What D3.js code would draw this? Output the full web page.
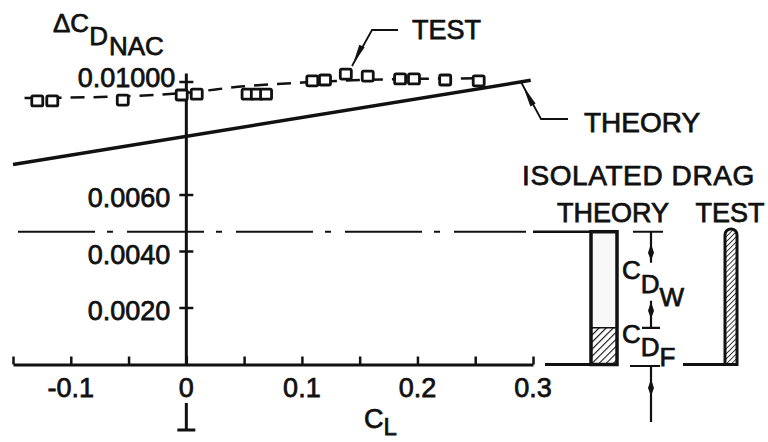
<!DOCTYPE html>
<html>
<head>
<meta charset="utf-8">
<script src="https://cdn.jsdelivr.net/npm/d3@7"></script>
<style>
  html, body { margin: 0; padding: 0; background: #fff; }
  svg { display: block; }
  text { font-family: "Liberation Sans", Arial, Helvetica, sans-serif; fill: #111; stroke: #111; stroke-width: 0.75px; }
</style>
</head>
<body>
<svg id="chart" width="768" height="442"></svg>
<script>
// Nacelle drag increment vs lift coefficient
const testCL = [-0.129, -0.116, -0.055, -0.004, 0.009, 0.053, 0.061, 0.069, 0.109, 0.120, 0.138, 0.157, 0.185, 0.197, 0.224, 0.253];
const testCD = [0.00933, 0.00933, 0.00936, 0.00954, 0.00957, 0.00957, 0.00957, 0.00957, 0.01004, 0.01007, 0.01028, 0.01021, 0.01011, 0.01011, 0.01007, 0.01004];

// faired curve through the test points
const fairCL = [-0.14, -0.05, 0.0, 0.05, 0.10, 0.18, 0.255];
const fairCD = [0.00943, 0.00950, 0.00962, 0.00985, 0.00998, 0.01010, 0.01013];

// theory line
const theoryCL = [-0.15, 0.298];
const theoryCD = [0.00708, 0.01006];

// axis ticks
const xTickValues = [-0.15, -0.1, -0.05, 0, 0.05, 0.1, 0.15, 0.2, 0.25, 0.3];
const xLabelValues = [-0.1, 0, 0.1, 0.2, 0.3];
const xTickLabels = ["-0.1", "0", "0.1", "0.2", "0.3"];
const yTickValues = [0.002, 0.004, 0.006, 0.010];
const yTickLabels = ["0.0020", "0.0040", "0.0060", "0.01000"];

// isolated drag: wave + friction
const dragCats = ["THEORY", "TEST"];
const dragTotal = [0.0047, 0.0048];
const dragFriction = [0.0013, null];

const svg = d3.select("#chart");
const x = d3.scaleLinear().domain([-0.15, 0.3]).range([13, 533]);
const y = d3.scaleLinear().domain([0, 0.01]).range([364.5, 82]);
const xd = d3.scalePoint().domain(dragCats).range([604, 731]);
const barW = { THEORY: 26, TEST: 12 };

const defs = svg.append("defs");
function hatch(id, gap, w) {
  const p = defs.append("pattern").attr("id", id).attr("patternUnits", "userSpaceOnUse")
    .attr("width", gap).attr("height", gap).attr("patternTransform", "rotate(45)");
  p.append("rect").attr("width", gap).attr("height", gap).attr("fill", "#fff");
  p.append("line").attr("x1", 0).attr("y1", 0).attr("x2", 0).attr("y2", gap)
    .attr("stroke", "#111").attr("stroke-width", w);
}
hatch("hatchF", 5, 2.2);
hatch("hatchT", 3.6, 1.6);

const ink = "#111";
const x0 = x(0);

// x axis with upward ticks
const xAxis = d3.axisBottom(x).tickValues(xTickValues).tickSizeInner(-8).tickSizeOuter(0).tickFormat("");
const gx = svg.append("g").attr("transform", `translate(0,${y(0)})`).call(xAxis);
gx.select(".domain").attr("stroke", ink).attr("stroke-width", 3);
gx.selectAll(".tick line").attr("stroke", ink).attr("stroke-width", 2.5);

svg.append("g").selectAll("text").data(xLabelValues).join("text")
  .attr("x", d => x(d)).attr("y", 397).attr("text-anchor", "middle")
  .attr("font-size", 27).text((d, i) => xTickLabels[i]);

// y axis through CL = 0
svg.append("line").attr("x1", x0).attr("x2", x0).attr("y1", y(0)).attr("y2", y(0.0103))
  .attr("stroke", ink).attr("stroke-width", 3);
svg.append("g").selectAll("line").data(yTickValues).join("line")
  .attr("x1", x0 - 7).attr("x2", x0 + 7).attr("y1", d => y(d)).attr("y2", d => y(d))
  .attr("stroke", ink).attr("stroke-width", 2.5);
svg.append("g").selectAll("text").data(yTickValues).join("text")
  .attr("x", (d, i) => i === yTickValues.length - 1 ? x0 - 11 : x0 - 16)
  .attr("y", (d, i) => i === yTickValues.length - 1 ? y(d) + 5 : y(d) + 12)
  .attr("text-anchor", "end").attr("font-size", 27)
  .text((d, i) => yTickLabels[i]);

// marker below the origin
svg.append("path").attr("d", `M${x0},403 V430 M${x0 - 9},430 H${x0 + 9}`)
  .attr("stroke", ink).attr("stroke-width", 3).attr("fill", "none");

// axis titles
const yt = svg.append("text").attr("x", 53).attr("y", 32).attr("font-size", 26);
yt.append("tspan").text("\u0394C");
yt.append("tspan").attr("dy", 13).text("D");
yt.append("tspan").attr("dy", 10).attr("dx", 1).text("NAC");

const xt = svg.append("text").attr("x", 364).attr("y", 428).attr("font-size", 27);
xt.append("tspan").text("C");
xt.append("tspan").attr("dy", 7).attr("font-size", 24).text("L");

// theory line
const line = d3.line().x(d => x(d[0])).y(d => y(d[1]));
svg.append("path").datum(d3.zip(theoryCL, theoryCD)).attr("d", line)
  .attr("fill", "none").attr("stroke", ink).attr("stroke-width", 3.5);

// faired test curve
svg.append("path").datum(d3.zip(fairCL, fairCD))
  .attr("d", line.curve(d3.curveMonotoneX))
  .attr("fill", "none").attr("stroke", ink).attr("stroke-width", 2.5)
  .attr("stroke-dasharray", "14,9");

// test points
svg.append("g").selectAll("rect").data(d3.zip(testCL, testCD)).join("rect")
  .attr("x", d => x(d[0]) - 5.5).attr("y", d => y(d[1]) - 5)
  .attr("width", 11).attr("height", 10).attr("rx", 1.5)
  .attr("fill", "#fff").attr("stroke", ink).attr("stroke-width", 2.8);

// leaders
function leader(pts, tip, base) {
  svg.append("path").attr("d", "M" + pts.map(p => p.join(",")).join("L"))
    .attr("fill", "none").attr("stroke", ink).attr("stroke-width", 1.8);
  const dx = base[0] - tip[0], dy = base[1] - tip[1];
  const len = Math.hypot(dx, dy), nx = -dy / len * 3, ny = dx / len * 3;
  svg.append("path").attr("d", `M${tip[0]},${tip[1]}L${base[0] + nx},${base[1] + ny}L${base[0] - nx},${base[1] - ny}Z`)
    .attr("fill", ink);
}
leader([[398, 30], [372, 30], [352, 66]], [353, 64], [362, 46]);
leader([[521, 82], [541, 119], [568, 119]], [523, 86], [533, 105]);

svg.append("text").attr("x", 412).attr("y", 39).attr("font-size", 27).text("TEST");
svg.append("text").attr("x", 584).attr("y", 132).attr("font-size", 28).text("THEORY");

// isolated drag panel
svg.append("text").attr("x", 522).attr("y", 185).attr("font-size", 28)
  .attr("letter-spacing", 0.6).text("ISOLATED DRAG");
svg.selectAll(".cat").data(dragCats).join("text").attr("class", "cat")
  .attr("x", (d, i) => i === 0 ? xd(d) + 9 : xd(d) - 1)
  .attr("y", 222).attr("text-anchor", "middle").attr("font-size", 27).text(d => d);

const th = dragCats[0], ts = dragCats[1];
const thL = xd(th) - barW[th] / 2, thR = xd(th) + barW[th] / 2;

// dash-dot reference at theory total, continued solid to the bar
svg.append("line").attr("x1", 18).attr("x2", 526).attr("y1", y(dragTotal[0])).attr("y2", y(dragTotal[0]))
  .attr("stroke", ink).attr("stroke-width", 2.2).attr("stroke-dasharray", "77,12,6,14");
svg.append("line").attr("x1", 533).attr("x2", thL).attr("y1", y(dragTotal[0])).attr("y2", y(dragTotal[0]))
  .attr("stroke", ink).attr("stroke-width", 2.5);
// baseline stub to theory bar
svg.append("line").attr("x1", 545).attr("x2", thL).attr("y1", y(0)).attr("y2", y(0))
  .attr("stroke", ink).attr("stroke-width", 3);

// theory bar: friction part hatched
svg.append("rect").attr("x", thL).attr("y", y(dragTotal[0])).attr("width", barW[th])
  .attr("height", y(0) - y(dragTotal[0])).attr("fill", "#f8f8f8");
svg.append("rect").attr("x", thL).attr("y", y(dragFriction[0])).attr("width", barW[th])
  .attr("height", y(0) - y(dragFriction[0])).attr("fill", "url(#hatchF)");
svg.append("line").attr("x1", thL).attr("x2", thR).attr("y1", y(dragFriction[0])).attr("y2", y(dragFriction[0]))
  .attr("stroke", ink).attr("stroke-width", 1.5);
svg.append("rect").attr("x", thL).attr("y", y(dragTotal[0])).attr("width", barW[th])
  .attr("height", y(0) - y(dragTotal[0])).attr("fill", "none")
  .attr("stroke", ink).attr("stroke-width", 3.5);

// test bar
const tsL = xd(ts) - barW[ts] / 2;
svg.append("line").attr("x1", 683).attr("x2", tsL).attr("y1", y(0)).attr("y2", y(0))
  .attr("stroke", ink).attr("stroke-width", 3);
svg.append("path")
  .attr("d", `M${tsL},${y(0)}V${y(dragTotal[1]) + 6}A6,6 0 0 1 ${tsL + 12},${y(dragTotal[1]) + 6}V${y(0)}Z`)
  .attr("fill", "url(#hatchT)").attr("stroke", ink).attr("stroke-width", 3);

// dimension markers
const mx = 651;
function diamond(cy) {
  svg.append("path").attr("d", `M${mx},${cy - 9}L${mx + 3},${cy}L${mx},${cy + 8}L${mx - 3},${cy}Z`).attr("fill", ink);
}
const yT = y(dragTotal[0]), yF = y(dragFriction[0]), yB = y(0) + 1.5;
svg.append("path").attr("d", `M${mx - 18},${yT}H${mx + 12}M${mx},${yT}V${yT + 31}`)
  .attr("stroke", ink).attr("stroke-width", 2.2).attr("fill", "none");
diamond(yT + 21);
svg.append("path").attr("d", `M${mx - 9},${yF}H${mx + 9}M${mx},${yF}V${yF - 27}`)
  .attr("stroke", ink).attr("stroke-width", 2.2).attr("fill", "none");
diamond(yF - 17);
svg.append("path").attr("d", `M${mx - 21},${yB}H${mx + 9}M${mx},${yB}V${yB + 56}`)
  .attr("stroke", ink).attr("stroke-width", 2.2).attr("fill", "none");
diamond(yB + 22);

const w = svg.append("text").attr("x", 622).attr("y", 279).attr("font-size", 26);
w.append("tspan").text("C");
w.append("tspan").attr("dy", 14).text("D");
w.append("tspan").attr("dy", 13).text("W");
const f = svg.append("text").attr("x", 622).attr("y", 343).attr("font-size", 26);
f.append("tspan").text("C");
f.append("tspan").attr("dy", 13).text("D");
f.append("tspan").attr("dy", 10).text("F");
</script>
</body>
</html>
